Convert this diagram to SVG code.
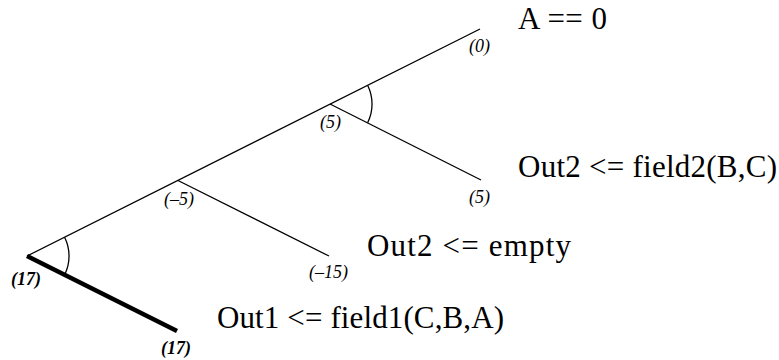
<svg xmlns="http://www.w3.org/2000/svg" width="779" height="360" viewBox="0 0 779 360">
<style>
.ln{stroke:#000;stroke-width:1.3;fill:none}
.thick{stroke:#000;stroke-width:4.5;fill:none}
.arc{stroke:#000;stroke-width:1.3;fill:none}
.big{font-family:"Liberation Serif",serif;font-size:31px;fill:#000}
.sm{font-family:"Liberation Serif",serif;font-size:18px;font-style:italic;fill:#000}
.smb{font-family:"Liberation Serif",serif;font-size:18px;font-style:italic;font-weight:bold;fill:#000}
</style>
<rect width="779" height="360" fill="#fff"/>
<g id="connectors">
<line class="ln" x1="27" y1="256" x2="480" y2="29"/>
<line class="ln" x1="330" y1="104" x2="481" y2="180"/>
<line class="ln" x1="178" y1="180.5" x2="329" y2="256"/>
<line class="thick" x1="27" y1="256" x2="177" y2="331"/>
<path class="arc" d="M64.6,237.2 A42,42 0 0 1 64.6,274.8"/>
<path class="arc" d="M367.6,85.2 A42,42 0 0 1 367.6,122.8"/>
</g>
<g id="n-root"><text class="smb" x="11" y="285">(17)</text></g>
<g id="n-out1"><text class="smb" x="161" y="354">(17)</text><text class="big" x="217" y="328" textLength="287" lengthAdjust="spacing">Out1 &lt;= field1(C,B,A)</text></g>
<g id="n-m5"><text class="sm" x="164" y="205">(–5)</text></g>
<g id="n-m15"><text class="sm" x="309" y="278">(–15)</text><text class="big" x="367" y="256" textLength="204" lengthAdjust="spacing">Out2 &lt;= empty</text></g>
<g id="n-5a"><text class="sm" x="320" y="128">(5)</text></g>
<g id="n-5b"><text class="sm" x="469" y="203">(5)</text><text class="big" x="518" y="177" textLength="259" lengthAdjust="spacing">Out2 &lt;= field2(B,C)</text></g>
<g id="n-0"><text class="sm" x="469" y="52">(0)</text><text class="big" x="518" y="29" textLength="89" lengthAdjust="spacing">A == 0</text></g>
</svg>
